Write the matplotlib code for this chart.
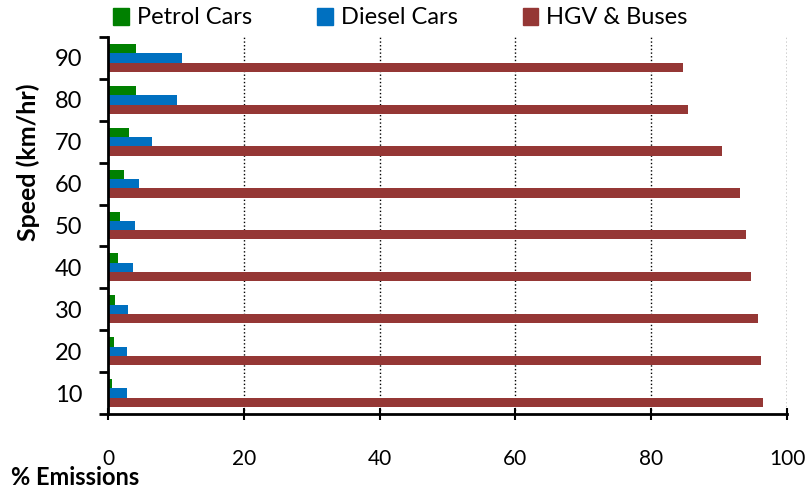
import numpy as np
import matplotlib.pyplot as plt
from matplotlib.patches import Patch

plt.rcParams['font.family'] = ['Lato', 'DejaVu Sans']

# data
speeds = ['10', '20', '30', '40', '50', '60', '70', '80', '90']
petrol = [0.65, 0.95, 1.1, 1.5, 1.8, 2.3, 3.05, 4.2, 4.2]
diesel = [2.85, 2.85, 3.0, 3.7, 4.0, 4.6, 6.5, 10.2, 10.95]
hgv = [96.4, 96.2, 95.8, 94.7, 93.9, 93.1, 90.4, 85.4, 84.7]
series_names = ['Petrol Cars', 'Diesel Cars', 'HGV & Buses']
colors = ['#008000', '#0070C0', '#953735']

fig = plt.figure(figsize=(8.1, 4.91), dpi=100)
ax = fig.add_axes([0.1333, 0.1568, 0.8383, 0.7678])

y = np.arange(len(speeds))
h = 0.222
ax.barh(y + h, petrol, height=h, color=colors[0])
ax.barh(y, diesel, height=h, color=colors[1])
ax.barh(y - h, hgv, height=h, color=colors[2])

ax.set_xlim(0, 100)
ax.set_ylim(-0.5, len(speeds) - 0.5)
ax.set_xticks([0, 20, 40, 60, 80, 100])
ax.set_yticks(y)
ax.set_yticklabels(speeds)
ax.set_yticks(np.arange(-0.5, len(speeds)), minor=True)

ax.tick_params(axis='y', which='major', length=0, pad=18.5, labelsize=17)
ax.tick_params(axis='y', which='minor', length=6.5, width=2, direction='out')
ax.tick_params(axis='x', length=8, width=1.5, direction='inout', pad=21, labelsize=15)

for s in ['top', 'right']:
    ax.spines[s].set_visible(False)
ax.spines['left'].set_linewidth(2)
ax.spines['bottom'].set_linewidth(2)

ax.grid(axis='x', linestyle=':', color='black', linewidth=1)
ax.set_axisbelow(True)

fig.text(28 / 810, 1 - 162 / 491, 'Speed (km/hr)', rotation=90, ha='center', va='center',
         fontsize=18, fontweight='bold')
fig.text(11 / 810, 1 - 485 / 491, '% Emissions', ha='left', va='baseline',
         fontsize=17, fontweight='bold')

handles = [Patch(color=c) for c in colors]
fig.legend(handles, series_names, loc='center left', bbox_to_anchor=(92 / 810, 1 - 18 / 491),
           ncol=3, frameon=False, fontsize=17, handlelength=0.65, handleheight=0.75,
           handletextpad=0.35, columnspacing=2.76)

plt.savefig('out.png', dpi=100)
